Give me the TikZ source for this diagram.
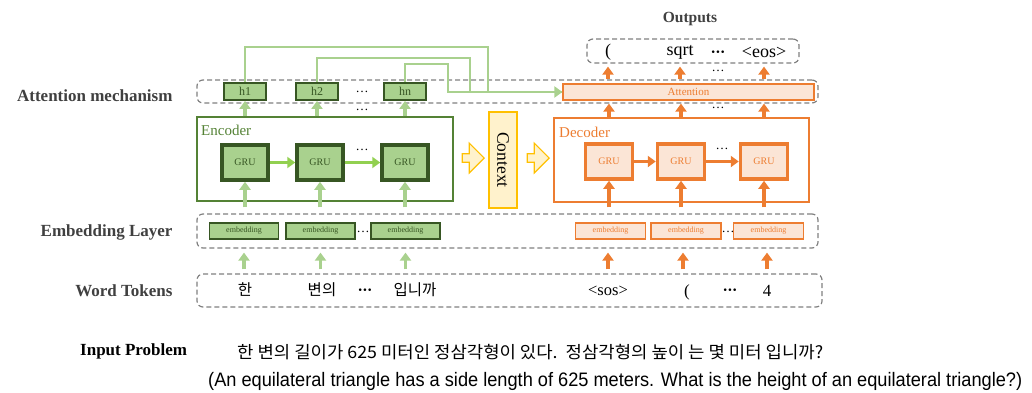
\documentclass[tikz,border=0pt]{standalone}
\usepackage{fontspec}
\setmainfont{Liberation Serif}
\newfontfamily\krfont{Noto Sans CJK KR}
\newfontfamily\arialf{Liberation Sans}
\usetikzlibrary{arrows.meta,shapes.arrows}
\definecolor{gfill}{HTML}{A9D18E}
\definecolor{gdark}{HTML}{375623}
\definecolor{gmid}{HTML}{548235}
\definecolor{garrow}{HTML}{A9D18E}
\definecolor{garrowb}{HTML}{92D050}
\definecolor{ofill}{HTML}{FBE5D6}
\definecolor{orng}{HTML}{ED7D31}
\definecolor{yfill}{HTML}{FFF2CC}
\definecolor{ybord}{HTML}{FFC000}
\definecolor{dgray}{HTML}{808080}
\definecolor{lbl}{HTML}{404040}
\tikzset{
  dashbox/.style={draw=dgray, dash pattern=on 5pt off 3pt, line width=1.2pt, rounded corners=6pt, inner sep=0pt},
  rowlabel/.style={anchor=east, text=lbl, font=\bfseries\fontsize{17}{20}\selectfont},
  hbox/.style={draw=gdark, fill=gfill, line width=1.8pt, minimum width=42pt, minimum height=17pt, inner sep=0pt, text=gdark, font=\fontsize{12}{14}\selectfont},
  ggru/.style={draw=gdark, fill=gfill, line width=3.5pt, minimum width=46pt, minimum height=35pt, inner sep=0pt, text=gdark, font=\fontsize{10}{12}\selectfont},
  ogru/.style={draw=orng, fill=ofill, line width=3.5pt, minimum width=47pt, minimum height=35pt, inner sep=0pt, text=orng, font=\fontsize{10}{12}\selectfont},
  gemb/.style={draw=gdark, fill=gfill, line width=1.5pt, minimum width=69pt, minimum height=16pt, inner sep=0pt, text=gdark, font=\fontsize{8}{9}\selectfont},
  oemb/.style={draw=orng, fill=ofill, line width=1.5pt, minimum width=70pt, minimum height=16pt, inner sep=0pt, text=orng, font=\fontsize{8}{9}\selectfont},
  tip/.style={-{Triangle[width=11pt,length=8pt]}},
  garr/.style={draw=garrow, line width=3.2pt, tip},
  garrh/.style={draw=garrowb, line width=3.2pt, tip},
  oarr/.style={draw=orng, line width=3.2pt, tip},
  gline/.style={draw=garrow, line width=2.4pt},
  blockarr/.style={single arrow, draw=ybord, fill=yfill, line width=1.2pt, minimum height=22pt, minimum width=30pt, single arrow head extend=4pt, inner sep=1pt},
  dots/.style={font=\fontsize{13}{15}\selectfont, inner sep=0pt},
  cdots/.style={font=\bfseries\fontsize{16}{18}\selectfont, inner sep=0pt},
  tok/.style={font=\fontsize{18}{20}\selectfont, inner sep=0pt},
  krtok/.style={font=\krfont\fontsize{15.5}{18}\selectfont, inner sep=0pt},
}
\begin{document}
\begin{tikzpicture}[x=1pt,y=-1pt]
\useasboundingbox (0,0) rectangle (1032,392);

% row labels
\node[rowlabel] (lab1) at (176,96) {Attention mechanism};
\node[rowlabel] (lab2) at (176,232) {Embedding Layer};
\node[rowlabel] (lab3) at (176,291) {Word Tokens};

% outputs
\node[text=lbl, font=\bfseries\fontsize{15.5}{18}\selectfont] (outlab) at (690,19) {Outputs};
\node[dashbox, minimum width=212pt, minimum height=24pt] (outbox) at (693,51) {};
\node[tok] (o1) at (608,52) {(};
\node[tok] (o2) at (680,52) {sqrt};
\node[cdots] (o3) at (718,54) {\textperiodcentered\kern-0.5pt\textperiodcentered\kern-0.5pt\textperiodcentered};
\node[tok] (o4) at (764,52) {<eos>};

% attention row
\node[dashbox, minimum width=621pt, minimum height=23pt] (attrow) at (507.5,91.5) {};
\node[hbox] (h1) at (245,91.5) {h1};
\node[hbox] (h2) at (317,91.5) {h2};
\node[hbox] (hn) at (405,91.5) {hn};
\node[dots] (hd) at (362,92) {\ldots};
\node[draw=orng, fill=ofill, line width=1.2pt, minimum width=251pt, minimum height=16pt, inner sep=0pt, text=orng, font=\fontsize{11}{13}\selectfont] (att) at (688.5,92) {Attention};

% attention lines
\coordinate (c1) at (488,47);
\coordinate (c2) at (470,58);
\coordinate (c3) at (448,64);
\draw[gline] (h1.north) |- (c1) |- (att.west);
\draw[gline] (h2.north) |- (c2) |- (att.west);
\draw[gline, tip] (hn.north) |- (c3) |- (att.west);

% encoder
\node[draw=gmid, fill=white, line width=1.2pt, minimum width=256pt, minimum height=84pt, inner sep=0pt] (enc) at (325,159) {};
\node[anchor=west, text=gmid, font=\fontsize{15}{17}\selectfont, inner sep=0pt] (enclab) at (201,130) {Encoder};
\node[ggru] (eg1) at (245,162.5) {GRU};
\node[ggru] (eg2) at (320,162.5) {GRU};
\node[ggru] (eg3) at (405,162.5) {GRU};
\node[dots] (egd) at (362,150) {\ldots};
\draw[garrh] (eg1) -- (eg2);
\draw[garrh] (eg2) -- (eg3);

% context
\node[draw=ybord, fill=yfill, line width=1.2pt, minimum width=28pt, minimum height=96pt, inner sep=0pt] (ctx) at (503,160) {};
\node[rotate=-90, font=\fontsize{17.5}{20}\selectfont, inner sep=0pt] (ctxt) at (ctx.center) {Context};
\node[blockarr] (ba1) at (471,158) {};
\node[blockarr] (ba2) at (536,158) {};

% decoder
\node[draw=orng, fill=white, line width=1.2pt, minimum width=255pt, minimum height=84pt, inner sep=0pt] (dec) at (681.5,160) {};
\node[anchor=west, text=orng, font=\fontsize{15}{17}\selectfont, inner sep=0pt] (declab) at (559,132) {Decoder};
\node[ogru] (dg1) at (609,161.5) {GRU};
\node[ogru] (dg2) at (681,161.5) {GRU};
\node[ogru] (dg3) at (764,161.5) {GRU};
\node[dots] (dgd) at (722,149) {\ldots};
\draw[oarr] (dg1) -- (dg2);
\draw[oarr] (dg2) -- (dg3);

% arrows encoder -> h, decoder -> attention
\draw[garr] (h1 |- enc.north) -- (h1.south);
\draw[garr] (h2 |- enc.north) -- (h2.south);
\draw[garr] (hn |- enc.north) -- (hn.south);
\node[dots] (ed) at (362,110) {\ldots};
\draw[oarr] (dg1 |- dec.north) -- (dg1 |- attrow.south);
\draw[oarr] (dg2 |- dec.north) -- (dg2 |- attrow.south);
\draw[oarr] (dg3 |- dec.north) -- (dg3 |- attrow.south);
\node[dots] (dd) at (718,108) {\ldots};

% attention -> outputs
\draw[oarr] (o1 |- attrow.north) -- ([yshift=-3pt]o1 |- outbox.south);
\draw[oarr] (o2 |- attrow.north) -- ([yshift=-3pt]o2 |- outbox.south);
\draw[oarr] (o4 |- attrow.north) -- ([yshift=-3pt]o4 |- outbox.south);
\node[dots] (od) at (718,71) {\ldots};

% embedding layer
\node[dashbox, minimum width=621pt, minimum height=34pt] (embrow) at (507.5,231) {};
\node[gemb] (ge1) at (244,231) {embedding};
\node[gemb] (ge2) at (320.5,231) {embedding};
\node[gemb] (ge3) at (405.5,231) {embedding};
\node[dots] (ged) at (363,232) {\ldots};
\node[oemb] (oe1) at (610.5,231) {embedding};
\node[oemb] (oe2) at (686,231) {embedding};
\node[oemb] (oe3) at (768.5,231) {embedding};
\node[dots] (oed) at (728,232) {\ldots};

% embedding -> GRU
\draw[garr] ([yshift=6pt]eg1 |- embrow.north) -- (eg1.south);
\draw[garr] ([yshift=6pt]eg2 |- embrow.north) -- (eg2.south);
\draw[garr] ([yshift=6pt]eg3 |- embrow.north) -- (eg3.south);
\draw[oarr] ([yshift=6pt]dg1 |- embrow.north) -- (dg1.south);
\draw[oarr] ([yshift=6pt]dg2 |- embrow.north) -- (dg2.south);
\draw[oarr] ([yshift=6pt]dg3 |- embrow.north) -- (dg3.south);

% word tokens
\node[dashbox, minimum width=625pt, minimum height=33pt] (wtrow) at (509.5,290.5) {};
\node[krtok] (t1) at (245,290) {한};
\node[krtok] (t2) at (322,290) {변의};
\node[cdots] (t3) at (365,292.5) {\textperiodcentered\kern-0.5pt\textperiodcentered\kern-0.5pt\textperiodcentered};
\node[krtok] (t4) at (415,290) {입니까};
\node[tok, font=\fontsize{16.5}{19}\selectfont] (t5) at (608,291) {<sos>};
\node[tok, font=\fontsize{17}{19}\selectfont] (t6) at (687,292) {(};
\node[cdots] (t7) at (730,292.5) {\textperiodcentered\kern-0.5pt\textperiodcentered\kern-0.5pt\textperiodcentered};
\node[tok, font=\fontsize{17}{19}\selectfont] (t8) at (767,291) {4};
\coordinate (t6c) at (683,290);

% tokens -> embedding
\draw[garr] ([yshift=4pt]ge1 |- wtrow.north) -- ([yshift=-4pt]ge1 |- embrow.south);
\draw[garr] ([yshift=4pt]ge2 |- wtrow.north) -- ([yshift=-4pt]ge2 |- embrow.south);
\draw[garr] ([yshift=4pt]ge3 |- wtrow.north) -- ([yshift=-4pt]ge3 |- embrow.south);
\draw[oarr] ([yshift=4pt]t5 |- wtrow.north) -- ([yshift=-4pt]t5 |- embrow.south);
\draw[oarr] ([yshift=4pt]t6c |- wtrow.north) -- ([yshift=-4pt]t6c |- embrow.south);
\draw[oarr] ([yshift=4pt]t8 |- wtrow.north) -- ([yshift=-4pt]t8 |- embrow.south);

% input problem
\node[anchor=west, text=black, font=\bfseries\fontsize{17}{20}\selectfont, inner sep=0pt] (ip) at (80,351) {Input Problem};
\node[anchor=west, inner sep=0pt] (kr) at (237,352) {\resizebox{586pt}{\height}{\krfont\fontsize{17}{20}\selectfont 한 변의 길이가 625 미터인 정삼각형이 있다.\ \ 정삼각형의 높이 는 몇 미터 입니까?}};
\node[anchor=west, inner sep=0pt] (en) at (208,381) {\resizebox{814pt}{\height}{\arialf\fontsize{19.5}{22}\selectfont (An equilateral triangle has a side length of 625 meters. What is the height of an equilateral triangle?)}};
\end{tikzpicture}
\end{document}
